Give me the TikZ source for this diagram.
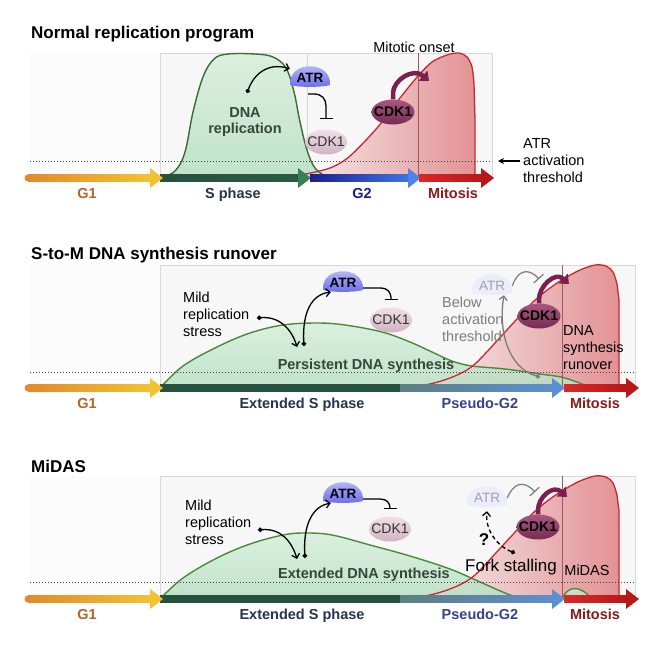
\documentclass[tikz,border=0pt]{standalone}
\usepackage{fontspec}
\setmainfont{Liberation Sans}
\usetikzlibrary{shapes.geometric,arrows.meta,calc}
\definecolor{gOne}{HTML}{E38A2A}
\definecolor{gOneB}{HTML}{F2C232}
\definecolor{sDark}{HTML}{27503F}
\definecolor{sHead}{HTML}{3B7F57}
\definecolor{gTwoA}{HTML}{1E1E8C}
\definecolor{gTwoB}{HTML}{3F73E6}
\definecolor{mitA}{HTML}{D92828}
\definecolor{mitB}{HTML}{B81818}
\definecolor{pgA}{HTML}{5E7E80}
\definecolor{pgB}{HTML}{5C8FD2}
\definecolor{lblGone}{HTML}{B0672A}
\definecolor{lblS}{HTML}{253450}
\definecolor{lblGtwo}{HTML}{1C1C80}
\definecolor{lblM}{HTML}{8B1A1A}
\definecolor{lblPG}{HTML}{34438A}
\definecolor{grFillA}{HTML}{D6EFDA}
\definecolor{grFillB}{HTML}{B7DFC3}
\definecolor{grLine}{HTML}{4A8A3A}
\definecolor{grLineDark}{HTML}{3D6A35}
\definecolor{grText}{HTML}{36463D}
\definecolor{rdLine}{HTML}{C8282D}
\definecolor{rdFill}{HTML}{E39294}
\definecolor{onsetCol}{HTML}{9E5A5A}
\definecolor{cdkArrow}{HTML}{7A2050}
\definecolor{cdkA}{HTML}{A8587F}
\definecolor{cdkB}{HTML}{7A2A53}
\definecolor{cdkPaleA}{HTML}{F0E0E8}
\definecolor{cdkPaleB}{HTML}{D0B2C2}
\definecolor{atrA}{HTML}{C8C8FF}
\definecolor{atrB}{HTML}{6C6CEA}
\definecolor{atrFade}{HTML}{ECECFA}
\definecolor{fadeText}{HTML}{A0A0A8}
\definecolor{belowGray}{HTML}{7C7C7C}
\definecolor{boxLine}{HTML}{D8D8D8}
\definecolor{boxFill}{HTML}{F7F7F7}
\definecolor{leftFill}{HTML}{FCFCFC}
\newcommand{\tlbar}[5]{\shade[left color=#4,right color=#5] (#1,#3-3.5) rectangle (#2,#3+3.5);}
\newcommand{\tlhead}[3]{\fill[#3] (#1,#2-10) -- (#1+13,#2) -- (#1,#2+10) -- cycle;}
\newcommand{\atrdome}[3]{\path[#3,shift={(#1,#2)}] (-20,8) .. controls (-22,-17) and (22,-17) .. (20,8) .. controls (12,10.5) and (-12,10.5) .. cycle;}
\tikzset{
  every node/.style={inner sep=0pt},
  title/.style={anchor=base west, font=\fontsize{17}{20}\selectfont\bfseries},
  phaselbl/.style={anchor=base, font=\fontsize{14.5}{17}\selectfont\bfseries},
  plain/.style={anchor=base, font=\fontsize{14.5}{17}\selectfont},
  txtblock/.style={anchor=north west, align=left, font=\fontsize{14.5}{17}\selectfont},
  atrnode/.style={minimum width=40, minimum height=18, font=\fontsize{13.5}{15}\selectfont\bfseries},
  atrfaded/.style={minimum width=40, minimum height=18, text=fadeText, font=\fontsize{13.5}{15}\selectfont},
  cdkpale/.style={ellipse, minimum width=42, minimum height=25, inner xsep=-4pt, inner ysep=0pt, top color=cdkPaleA, bottom color=cdkPaleB, text=black!80, font=\fontsize{14}{16}\selectfont},
  cdkact/.style={ellipse, minimum width=43, minimum height=25, inner xsep=-4pt, inner ysep=0pt, top color=cdkA, bottom color=cdkB, text=black, font=\fontsize{14}{16}\selectfont\bfseries},
  blk/.style={line width=1.3pt, black},
  grayl/.style={line width=1.3pt, belowGray},
  dotbarb/.style={{Circle[length=4.5pt]}-{Straight Barb[length=4pt,width=8pt]}},
  inh/.style={-{Bar[width=13pt]}},
  cdkarr/.style={line width=4.5pt, cdkArrow, -{Triangle[length=8pt,width=13pt]}},
  thrline/.style={dash pattern=on 1.2pt off 1.8pt, line width=1pt, black!75},
  boxsty/.style={draw=boxLine, fill=boxFill, line width=0.8pt},
  sepline/.style={boxLine, line width=0.8pt},
  grfill/.style={top color=grFillA, bottom color=grFillB, opacity=0.85},
  grline/.style={grLine, line width=1.4pt},
  rdline/.style={rdLine, line width=1.3pt},
  onsetline/.style={onsetCol, line width=1pt}
}
\begin{document}
\begin{tikzpicture}[x=1pt,y=-1pt,line join=round]
\useasboundingbox (0,0) rectangle (664,664);
\fill[white] (0,0) rectangle (664,664);

%%%%%%%%%%%%%%%% Panel 1
\node[title] (t1) at (31,38) {Normal replication program};
\draw[boxsty] (30,53) rectangle (492,178);
\fill[leftFill] (30.4,53.4) rectangle (160,177.6);
\draw[sepline] (160,53) -- (160,178);
\draw[sepline] (307,53) -- (307,178);
\shade[left color=boxFill, middle color=rdFill!40, right color=rdFill]
  plot[smooth] coordinates {(272,178) (300,175) (330,168) (350,156) (377,128) (400,98) (418,76) (432,62) (447,55) (459,53) (467,57) (472,67) (474,84)} -- (475,120) -- (475,178) -- cycle;
\path[grfill] plot[smooth,tension=0.6] coordinates {(160,178) (175,171) (185,152) (193,112) (203,77) (214,59) (228,54) (255,54) (273,57) (286,68) (294,92) (300,122) (307,150) (315,168) (328,178)} -- cycle;
\draw[grLineDark, line width=1.4pt] plot[smooth,tension=0.6] coordinates {(160,178) (175,171) (185,152) (193,112) (203,77) (214,59) (228,54) (255,54) (273,57) (286,68) (294,92) (300,122) (307,150) (315,168) (328,178)};
\draw[rdline] plot[smooth] coordinates {(272,178) (300,175) (330,168) (350,156) (377,128) (400,98) (418,76) (432,62) (447,55) (459,53) (467,57) (472,67) (474,84)} -- (475,120) -- (475,178);
\draw[onsetline] (418,53) -- (418,178);
\draw[thrline] (30,161) -- (492,161);
% timeline
\fill[gOne] (28,178) circle (3.5);
\tlbar{28}{151}{178}{gOne}{gOneB}
\tlbar{160}{299}{178}{sDark}{sDark!80!sHead}
\tlhead{298}{178}{sHead}
\tlbar{310}{409}{178}{gTwoA}{gTwoB}
\tlhead{408}{178}{gTwoB!90!white}
\tlbar{419}{482}{178}{mitA}{mitB}
\tlhead{481}{178}{mitB}
\tlhead{150}{178}{gOneB}
\node[phaselbl, text=lblGone] (g1a) at (87,198) {G1};
\node[phaselbl, text=lblS] (sa) at (233,198) {S phase};
\node[phaselbl, text=lblGtwo] (g2a) at (362,198) {G2};
\node[phaselbl, text=lblM] (ma) at (453,198) {Mitosis};
% labels
\node[plain] (onsetlbl) at (414,52) {Mitotic onset};
\node[txtblock] (thr1) at (523,138) {ATR\\activation\\threshold};
\coordinate (thrtip) at (498,161);
\draw[blk, line width=1.2pt, -{Stealth[length=6pt,width=6pt]}, shorten <=3pt] (thrtip -| thr1.west) -- (thrtip);
\node[txtblock, anchor=north, align=center, text=grText, font=\fontsize{14.5}{16.5}\selectfont\bfseries] (dnarep) at (245,107) {DNA\\replication};
% nodes
\atrdome{310}{77}{top color=atrA, bottom color=atrB}
\node[atrnode] (atr1) at (310,78) {ATR};
\node[cdkpale] (cdkp1) at (326,142) {CDK1};
\node[cdkact] (cdka1) at (393,112) {CDK1};
\coordinate (dot1) at (247,93);
\draw[blk, dotbarb] (dot1) .. controls (254,74) and (268,62) .. (atr1.north west);
\coordinate (inh1) at (308,94);
\draw[blk, inh] (inh1) -- (314,94) .. controls (322,94) and (326,99) .. (326,106) -- ([yshift=10pt]cdkp1.north);
\coordinate (onset1) at (429,81);
\draw[cdkarr] (cdka1.north) -- ++(0,-6) .. controls +(0,-13) and (413,67) .. (onset1);

%%%%%%%%%%%%%%%% Panel 2
\node[title] (t2) at (31,259) {S-to-M DNA synthesis runover};
\draw[boxsty] (30,265) rectangle (635,388);
\fill[leftFill] (30.4,265.4) rectangle (160,387.6);
\draw[sepline] (160,265) -- (160,388);
\shade[left color=boxFill, middle color=rdFill!40, right color=rdFill]
  plot[smooth] coordinates {(400,388) (430,384) (455,376) (475,364) (505,332) (532,303) (550,288) (565,278) (580,270) (595,265) (606,266) (613,272) (617,284)} -- (619,300) -- (619,388) -- cycle;
\path[grfill] plot[smooth,tension=0.6] coordinates {(160,388) (183,366) (217,347) (250,333) (283,325) (317,323) (345,325) (382,332) (410,342) (432,352) (452,361) (472,366) (505,369) (540,374) (565,378) (592,388)} -- cycle;
\draw[grline] plot[smooth,tension=0.6] coordinates {(160,388) (183,366) (217,347) (250,333) (283,325) (317,323) (345,325) (382,332) (410,342) (432,352) (452,361) (472,366) (505,369) (540,374) (565,378) (592,388)};
\draw[rdline] plot[smooth] coordinates {(400,388) (430,384) (455,376) (475,364) (505,332) (532,303) (550,288) (565,278) (580,270) (595,265) (606,266) (613,272) (617,284)} -- (619,300) -- (619,388);
\draw[onsetline] (562,265) -- (562,388);
\draw[thrline] (30,372) -- (635,372);
\fill[gOne] (28,388) circle (3.5);
\tlbar{28}{151}{388}{gOne}{gOneB}
\tlbar{160}{401}{388}{sDark}{sDark}
\tlbar{400}{553}{388}{pgA}{pgB}
\tlhead{552}{388}{pgB}
\tlbar{564}{627}{388}{mitA}{mitB}
\tlhead{626}{388}{mitB}
\tlhead{150}{388}{gOneB}
\node[phaselbl, text=lblGone] (g1b) at (87,408) {G1};
\node[phaselbl, text=lblS] (sb) at (302,408) {Extended S phase};
\node[phaselbl, text=lblPG] (pgb) at (480,408) {Pseudo-G2};
\node[phaselbl, text=lblM] (mb) at (595,408) {Mitosis};
\node[txtblock] (mild2) at (183,292) {Mild\\replication\\stress};
\atrdome{343}{282}{top color=atrA, bottom color=atrB}
\node[atrnode] (atr2) at (343,283) {ATR};
\node[cdkpale] (cdkp2) at (391,320) {CDK1};
\coordinate (dm2) at (257,318);
\coordinate (me2) at (297,347);
\draw[blk, dotbarb] (dm2) .. controls (280,316) and (292,330) .. (me2);
\coordinate (ds2) at (304,346);
\draw[blk, dotbarb] (ds2) .. controls (302,312) and (312,294) .. ([xshift=8pt]atr2.south west);
\draw[blk, inh] ([yshift=-5pt]atr2.east) -- (380,288) .. controls (388,288) and (391,292) .. ([yshift=7pt]cdkp2.north);
\node[phaselbl, text=grText] (pers) at (366,369) {Persistent DNA synthesis};
\atrdome{492}{285}{fill=atrFade}
\node[atrfaded] (atrf2) at (492,286) {ATR};
\coordinate (tb2) at (539,279);
\draw[grayl, line width=1.2pt, inh] (atrf2.east) .. controls (517,272) and (527,266) .. (tb2);
\node[txtblock, text=belowGray] (below2) at (442,297) {Below\\activation\\threshold};
\coordinate (dg2) at (540,377);
\draw[grayl, dotbarb] (dg2) .. controls (508,368) and (498,330) .. ([xshift=12pt]atrf2.south);
\node[cdkact] (cdka2) at (539,316) {CDK1};
\coordinate (onset2) at (569,284);
\draw[cdkarr] (cdka2.north) -- ++(0,-4) .. controls +(0,-13) and (555,271) .. (onset2);
\node[txtblock] (runover) at (563,325) {DNA\\synthesis\\runover};

%%%%%%%%%%%%%%%% Panel 3
\node[title] (t3) at (31,472) {MiDAS};
\draw[boxsty] (30,476) rectangle (635,599);
\fill[leftFill] (30.4,476.4) rectangle (160,598.6);
\draw[sepline] (160,476) -- (160,599);
\shade[left color=boxFill, middle color=rdFill!40, right color=rdFill]
  plot[smooth] coordinates {(400,599) (430,595) (455,587) (475,575) (505,543) (532,514) (550,499) (565,489) (580,481) (595,476) (606,477) (613,483) (617,495)} -- (619,511) -- (619,599) -- cycle;
\path[grfill] plot[smooth,tension=0.6] coordinates {(160,599) (183,578) (217,558) (250,544) (283,535) (305,533) (332,535) (370,545) (410,556) (450,569) (480,582) (505,593) (522,599)} -- cycle;
\draw[grline] plot[smooth,tension=0.6] coordinates {(160,599) (183,578) (217,558) (250,544) (283,535) (305,533) (332,535) (370,545) (410,556) (450,569) (480,582) (505,593) (522,599)};
\path[grfill] (562,599) .. controls (568,585) and (580,585) .. (592,599) -- cycle;
\draw[grline] (562,599) .. controls (568,585) and (580,585) .. (592,599);
\draw[rdline] plot[smooth] coordinates {(400,599) (430,595) (455,587) (475,575) (505,543) (532,514) (550,499) (565,489) (580,481) (595,476) (606,477) (613,483) (617,495)} -- (619,511) -- (619,599);
\draw[onsetline] (562,476) -- (562,599);
\draw[thrline] (30,582) -- (635,582);
\fill[gOne] (28,599) circle (3.5);
\tlbar{28}{151}{599}{gOne}{gOneB}
\tlbar{160}{401}{599}{sDark}{sDark}
\tlbar{400}{553}{599}{pgA}{pgB}
\tlhead{552}{599}{pgB}
\tlbar{564}{627}{599}{mitA}{mitB}
\tlhead{626}{599}{mitB}
\tlhead{150}{599}{gOneB}
\node[phaselbl, text=lblGone] (g1c) at (87,619) {G1};
\node[phaselbl, text=lblS] (sc) at (302,619) {Extended S phase};
\node[phaselbl, text=lblPG] (pgc) at (480,619) {Pseudo-G2};
\node[phaselbl, text=lblM] (mc) at (595,619) {Mitosis};
\node[txtblock] (mild3) at (185,500) {Mild\\replication\\stress};
\atrdome{343}{493}{top color=atrA, bottom color=atrB}
\node[atrnode] (atr3) at (343,494) {ATR};
\node[cdkpale] (cdkp3) at (390,529) {CDK1};
\coordinate (dm3) at (258,530);
\coordinate (me3) at (297,559);
\draw[blk, dotbarb] (dm3) .. controls (281,528) and (292,542) .. (me3);
\coordinate (ds3) at (305,558);
\draw[blk, dotbarb] (ds3) .. controls (303,524) and (313,506) .. ([xshift=8pt]atr3.south west);
\draw[blk, inh] ([yshift=-5pt]atr3.east) -- (380,499) .. controls (387,499) and (390,503) .. ([yshift=7pt]cdkp3.north);
\node[phaselbl, text=grText] (extdna) at (364,578) {Extended DNA synthesis};
\atrdome{487}{497}{fill=atrFade}
\node[atrfaded] (atrf3) at (487,498) {ATR};
\coordinate (tb3) at (535,492);
\draw[grayl, line width=1.2pt, inh] (atrf3.east) .. controls (513,484) and (523,479) .. (tb3);
\node[cdkact] (cdka3) at (538,527) {CDK1};
\coordinate (onset3) at (567,497);
\draw[cdkarr] (cdka3.north) -- ++(0,-4) .. controls +(0,-13) and (553,484) .. (onset3);
\node[anchor=base, font=\fontsize{17}{20}\selectfont\bfseries] (qm) at (484,545) {?};
\coordinate (dk3) at (515,553);
\draw[blk, dash pattern=on 4pt off 3pt, dotbarb] (dk3) .. controls (497,546) and (485,530) .. ([yshift=-4pt]atrf3.south);
\node[anchor=base, font=\fontsize{17}{20}\selectfont] (fork) at (511,571) {Fork stalling};
\node[plain] (midaslbl) at (587,575) {MiDAS};
\end{tikzpicture}
\end{document}
